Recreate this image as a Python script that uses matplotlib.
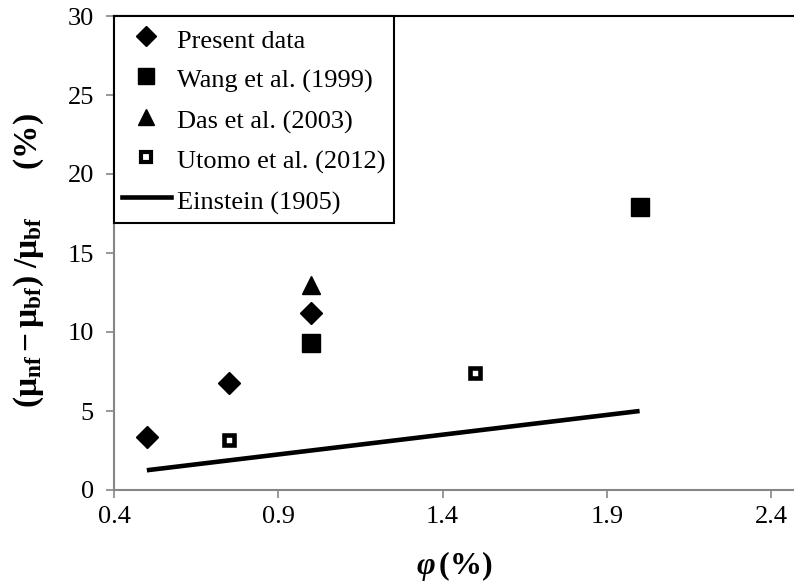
import matplotlib
matplotlib.use("Agg")
import matplotlib.pyplot as plt
from matplotlib.lines import Line2D

plt.rcParams['font.family'] = ['Liberation Serif', 'DejaVu Serif']
plt.rcParams['mathtext.fontset'] = 'custom'
plt.rcParams['mathtext.rm'] = 'Liberation Serif'
plt.rcParams['mathtext.it'] = 'Liberation Serif:italic'
plt.rcParams['mathtext.bf'] = 'Liberation Serif:bold'
plt.rcParams['mathtext.bfit'] = 'Liberation Serif:italic:bold'

# data
present_x = [0.5, 0.75, 1.0]
present_y = [3.37, 6.75, 11.2]
wang_x = [1.0, 2.0]
wang_y = [9.28, 17.93]
das_x = [1.0]
das_y = [12.95]
utomo_x = [0.75, 1.5]
utomo_y = [3.16, 7.38]
einstein_x = [0.5, 2.0]
einstein_y = [1.25, 5.0]

xticks = [0.4, 0.9, 1.4, 1.9, 2.4]
yticks = [0, 5, 10, 15, 20, 25, 30]

fig = plt.figure(figsize=(7.94, 5.85), dpi=100)
ax = fig.add_axes([114/794, 1 - 490/585, 1 - 114/794, (490 - 16)/585])

gray = '#868686'
ax.plot(einstein_x, einstein_y, color='black', lw=3.3, solid_capstyle='butt', zorder=2)
ax.plot(present_x, present_y, 'D', color='black', ms=11, ls='none', zorder=3)
ax.plot(wang_x, wang_y, 's', color='black', ms=13, ls='none', zorder=3)
ax.plot(das_x, das_y, '^', color='black', ms=13, ls='none', zorder=3)
ax.plot(utomo_x, utomo_y, 's', mfc='white', mec='black', mew=3.3, ms=7.5, ls='none', zorder=3)

ax.set_xlim(0.4, 2.47)
ax.set_ylim(0, 30)
ax.set_xticks(xticks)
ax.set_xticklabels([f"{t:.1f}" for t in xticks])
ax.set_yticks(yticks)

for s in ['left', 'bottom']:
    ax.spines[s].set_color(gray)
    ax.spines[s].set_linewidth(1.5)
ax.spines['right'].set_visible(False)
ax.spines['top'].set_color('black')
ax.spines['top'].set_linewidth(1.5)
ax.tick_params(axis='both', direction='out', length=5.5, width=1.2, color=gray,
               labelsize=19)
ax.tick_params(axis='x', pad=6)
ax.tick_params(axis='y', pad=9)

ax.set_xlabel(r'$\mathbfit{φ}\,$(%)', fontsize=23, fontweight='bold')
ax.xaxis.set_label_coords(0.5, -0.125)
ax.xaxis.label.set_va('top')
ax.set_ylabel(r'$\mathbf{(μ_{nf}−μ_{bf})\ /μ_{bf}\ \ \ \ \ \ (\%)}$', fontsize=24)
ax.yaxis.set_label_coords(-0.1, 0.485)

handles = [
    Line2D([], [], marker='D', color='black', ms=10, ls='none'),
    Line2D([], [], marker='s', color='black', ms=12, ls='none'),
    Line2D([], [], marker='^', color='black', ms=12, ls='none'),
    Line2D([], [], marker='s', mfc='white', mec='black', mew=3, ms=7, ls='none'),
    Line2D([], [], color='black', lw=3.3),
]
labels = ['Present data', 'Wang et al. (1999)', 'Das et al. (2003)',
          'Utomo et al. (2012)', 'Einstein (1905)']
leg = ax.legend(handles, labels, loc='upper left', bbox_to_anchor=(0.0, 1.0),
                fontsize=19, frameon=True, fancybox=False, edgecolor='black',
                framealpha=1, borderaxespad=0.0, handlelength=1.85,
                handleheight=1.35, handletextpad=0.25, labelspacing=0.41,
                borderpad=0.3)
leg.get_frame().set_linewidth(1.5)

fig.savefig('out.png', dpi=100)
